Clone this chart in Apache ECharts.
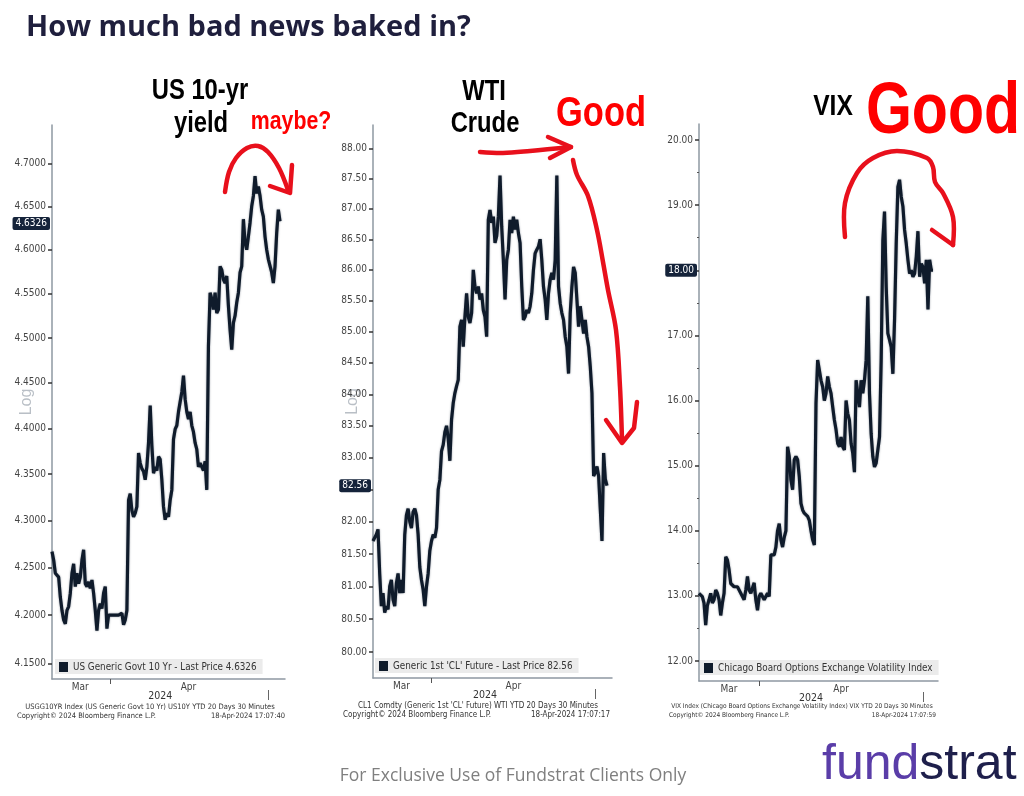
<!DOCTYPE html>
<html><head><meta charset="utf-8">
<script src="https://cdn.jsdelivr.net/npm/echarts@6/dist/echarts.min.js"></script>
<style>html,body{margin:0;padding:0;background:#fff}#c{width:1024px;height:796px}</style>
</head><body><div id="c"></div>
<script>
// ---------------- data ----------------
const us10y = [4.267,4.258,4.244,4.242,4.240,4.219,4.205,4.195,4.191,4.205,4.209,4.223,4.244,4.254,4.230,4.244,4.233,4.240,4.258,4.269,4.233,4.230,4.235,4.228,4.237,4.223,4.205,4.184,4.205,4.212,4.207,4.223,4.230,4.186,4.200,4.200,4.200,4.200,4.200,4.200,4.200,4.200,4.202,4.190,4.195,4.205,4.322,4.329,4.311,4.304,4.308,4.315,4.373,4.362,4.356,4.353,4.344,4.358,4.384,4.425,4.381,4.351,4.358,4.354,4.369,4.366,4.344,4.315,4.301,4.308,4.304,4.322,4.333,4.388,4.399,4.403,4.418,4.429,4.440,4.458,4.432,4.418,4.410,4.418,4.403,4.396,4.384,4.377,4.358,4.362,4.358,4.354,4.364,4.333,4.491,4.551,4.544,4.532,4.551,4.528,4.532,4.581,4.577,4.566,4.562,4.570,4.536,4.509,4.487,4.517,4.525,4.540,4.551,4.574,4.581,4.635,4.608,4.600,4.615,4.631,4.650,4.662,4.685,4.665,4.673,4.662,4.646,4.638,4.615,4.600,4.589,4.589,4.574,4.562,4.581,4.619,4.646,4.6326];
const wti = [81.70,81.75,81.80,81.88,81.20,80.70,80.90,80.60,80.70,80.65,81.00,81.10,80.80,80.70,81.05,81.20,80.90,81.10,80.90,81.80,82.10,82.20,82.00,81.90,82.15,82.20,82.10,81.80,81.30,81.10,80.95,80.70,81.00,81.20,81.55,81.70,81.80,81.75,81.90,82.50,82.65,83.10,83.20,83.40,83.50,83.30,82.95,83.60,83.86,84.02,84.13,84.23,85.08,85.19,84.76,85.24,85.62,85.24,85.14,85.30,86.00,85.73,85.62,85.73,85.52,85.62,85.35,85.24,84.92,86.82,86.98,86.77,86.87,86.44,86.55,86.87,87.55,86.71,86.16,85.52,86.16,86.33,86.82,86.60,86.87,86.66,86.82,86.60,86.44,85.73,85.19,85.24,85.35,85.30,85.41,85.62,86.00,86.27,86.33,86.38,86.50,86.16,85.73,85.52,85.19,85.62,85.84,85.95,85.84,86.16,87.55,85.73,85.46,85.30,85.19,84.92,84.76,84.33,85.30,85.73,86.05,85.95,85.52,85.08,85.41,85.19,84.97,85.19,84.92,84.76,84.44,84.02,82.71,82.76,82.86,82.71,82.19,81.70,83.07,82.66,82.56];
const vix = [13.04,13.01,12.99,12.89,12.55,12.85,12.94,13.04,12.89,12.94,13.09,13.04,12.94,12.70,12.89,13.04,13.60,13.55,13.40,13.19,13.19,13.14,13.16,13.14,13.09,13.09,12.99,12.94,13.09,13.30,13.09,13.04,13.12,13.20,12.94,12.78,12.99,13.04,13.01,12.94,12.99,13.04,12.99,13.63,13.60,13.63,13.75,14.00,14.11,13.86,13.75,13.90,14.00,15.29,15.14,14.78,14.63,15.09,15.14,15.09,14.83,14.42,14.32,14.27,14.24,14.22,14.16,14.00,13.86,13.78,15.96,16.62,16.47,16.31,16.21,16.00,16.11,16.37,16.21,16.11,15.90,15.70,15.55,15.34,15.29,15.44,15.29,15.24,16.00,15.80,15.70,15.34,15.19,14.90,16.31,16.11,15.90,16.31,16.11,16.31,16.62,17.60,16.11,15.49,15.14,14.98,15.04,15.24,15.44,16.62,18.46,18.90,17.75,17.03,16.93,16.82,16.41,17.24,18.41,19.28,19.39,19.13,18.98,18.62,18.41,18.16,17.95,18.00,17.90,17.95,18.21,18.60,17.90,18.10,18.05,17.80,18.16,17.40,18.16,18.00,18.00];

const us10yTicks = [4.15,4.20,4.25,4.30,4.35,4.40,4.45,4.50,4.55,4.60,4.65,4.70];
const wtiTicks = [80,80.5,81,81.5,82,82.5,83,83.5,84,84.5,85,85.5,86,86.5,87,87.5,88];
const vixTicks = [12,13,14,15,16,17,18,19,20];
const vixMinorTicks = [12.5,13.5,14.5,15.5,16.5,17.5,18.5,19.5];
const monthLabels = ['Mar','Apr'];
const yearLabel = '2024';
const lastUS = 4.6326, lastWTI = 82.56, lastVIX = 18.00;
const names = [
  'US Generic Govt 10 Yr - Last Price 4.6326',
  "Generic 1st 'CL' Future - Last Price 82.56",
  'Chicago Board Options Exchange Volatility Index - Last Price 18.00'
];
const footers = [
  ['USGG10YR Index (US Generic Govt 10 Yr) US10Y YTD 20 Days 30 Minutes','18-Apr-2024 17:07:40'],
  ["CL1 Comdty (Generic 1st 'CL' Future) WTI YTD 20 Days 30 Minutes",'18-Apr-2024 17:07:17'],
  ['VIX Index (Chicago Board Options Exchange Volatility Index) VIX YTD 20 Days 30 Minutes','18-Apr-2024 17:07:59']
];

// ---------------- layout ----------------
const NARROW = "'Liberation Sans Narrow','Arial Narrow','DejaVu Sans Condensed',sans-serif";
const LINE = '#0f1b2b';
const AXIS = '#8e98a2';
const panels = [
  {left:52, top:125, width:233, height:554, n:141, months:[17,82], bound:35, year:65, endTick:130},
  {left:373, top:125, width:239, height:553, n:144, months:[17,84], bound:35, year:67, endTick:133},
  {left:699, top:124, width:239, height:557, n:144, months:[18,85], bound:36, year:67, endTick:134}
];

function monthCats(p){ const a = new Array(p.n).fill(''); p.months.forEach((m,i)=>a[m]=monthLabels[i]); return a; }
function yearCats(p){ const a = new Array(p.n).fill(''); a[p.year]=yearLabel; return a; }

const grid = panels.map(p=>({left:p.left, top:p.top, width:p.width, height:p.height, containLabel:false, outerBoundsMode:'none'}));
const xAxis = [];
panels.forEach((p,gi)=>{
  xAxis.push({type:'category', gridIndex:gi, data:monthCats(p), boundaryGap:false,
    axisLine:{show:true, lineStyle:{color:AXIS, width:1.5}},
    axisTick:{show:true, interval:(i)=>i===p.bound, length:5, lineStyle:{color:'#555'}},
    axisLabel:{interval:(i,v)=>v!=='', fontSize:10, color:'#444', fontFamily:NARROW, margin:3},
    splitLine:{show:false}});
  xAxis.push({type:'category', gridIndex:gi, data:yearCats(p), boundaryGap:false, position:'bottom', offset:11,
    axisLine:{show:false},
    axisTick:{show:true, interval:(i)=>i===p.endTick, length:10, lineStyle:{color:'#666'}},
    axisLabel:{interval:(i,v)=>v!=='', fontSize:10.5, color:'#333', fontFamily:NARROW, margin:1},
    splitLine:{show:false}});
});

const yCommon = {axisLine:{show:true, lineStyle:{color:AXIS, width:1.5}}, splitLine:{show:false}};
const yLabel = {fontSize:10, color:'#444', fontFamily:NARROW, margin:6};
const yAxis = [
  Object.assign({type:'log', logBase:10, gridIndex:0, min:4.1338, max:4.745,
    name:'Log', nameLocation:'middle', nameRotate:90, nameGap:17, nameMoveOverlap:false,
    nameTextStyle:{color:'#b9bfc6', fontSize:16, fontFamily:'Liberation Sans'},
    axisTick:{show:true, customValues:us10yTicks, length:4, lineStyle:{color:'#333', width:1.5}},
    axisLabel:Object.assign({customValues:us10yTicks, formatter:(v)=>(+v).toFixed(4)}, yLabel)}, yCommon),
  Object.assign({type:'log', logBase:10, gridIndex:1, min:79.61, max:88.39,
    name:'Log', nameLocation:'middle', nameRotate:90, nameGap:12, nameMoveOverlap:false,
    nameTextStyle:{color:'#b9bfc6', fontSize:16, fontFamily:'Liberation Sans'},
    axisTick:{show:true, customValues:wtiTicks, length:4, lineStyle:{color:'#333', width:1.5}},
    axisLabel:Object.assign({customValues:wtiTicks, formatter:(v)=>(+v).toFixed(2)}, yLabel)}, yCommon),
  Object.assign({type:'value', gridIndex:2, min:11.693, max:20.246,
    axisTick:{show:true, customValues:vixTicks, length:4, lineStyle:{color:'#333', width:1.5}},
    axisLabel:Object.assign({customValues:vixTicks, formatter:(v)=>(+v).toFixed(2)}, yLabel)}, yCommon),
  {type:'value', gridIndex:2, min:11.693, max:20.246, position:'left',
    axisLine:{show:false}, splitLine:{show:false},
    axisTick:{show:true, customValues:vixMinorTicks, length:2, lineStyle:{color:'#555'}},
    axisLabel:{show:false}}
];

function priceTag(v, txt){
  return {silent:true, symbol:['none','none'], animation:false,
    lineStyle:{color:'rgba(0,0,0,0)', width:1, type:'solid'},
    label:{show:true, position:'start', formatter:txt, color:'#ffffff', backgroundColor:'#15233a',
      padding:[2,3,1,3], fontSize:10, fontFamily:NARROW, distance:2, borderRadius:2, opacity:1},
    emphasis:{disabled:true},
    data:[{yAxis:v}]};
}
const series = [
  {type:'line', name:names[0], xAxisIndex:0, yAxisIndex:0, data:us10y, markLine:priceTag(lastUS,'4.6326')},
  {type:'line', name:names[1], xAxisIndex:2, yAxisIndex:1, data:wti, markLine:priceTag(lastWTI,'82.56')},
  {type:'line', name:names[2], xAxisIndex:4, yAxisIndex:2, data:vix, markLine:priceTag(lastVIX,'18.00')}
].map(s=>Object.assign(s,{showSymbol:false, symbol:'none', animation:false,
  lineStyle:{width:3.2, color:LINE, shadowColor:'rgba(70,80,95,0.6)', shadowBlur:2}, itemStyle:{color:LINE}}));

const legendPos = [[55,659,null],[375,658,null],[700,660,218]];
const legend = legendPos.map((lp,i)=>({left:lp[0], top:lp[1], data:[names[i]], selectedMode:false,
  backgroundColor:'#ebebeb', padding:[3,6,2,4], itemWidth:9, itemHeight:10, icon:'rect',
  textStyle:Object.assign({fontSize:9.8, color:'#333', fontFamily:NARROW}, lp[2]?{width:lp[2], overflow:'truncate', ellipsis:''}:{})}));

// ---------------- annotations ----------------
const RED = '#e8101c';
function txt(x,y,text,opt){ return {type:'text', x:x, y:y, scaleX:opt.sx||1, silent:true, z:10,
  style:{text:text, fill:opt.fill||'#000', font:opt.font, textAlign:opt.align||'center', textVerticalAlign:'top'}}; }
function pl(points){ return {type:'polyline', silent:true, z:10, shape:{points:points, smooth:0.35},
  style:{stroke:RED, lineWidth:4.5, fill:null, lineCap:'round', lineJoin:'round'}}; }
function plStraight(points){ return {type:'polyline', silent:true, z:10, shape:{points:points},
  style:{stroke:RED, lineWidth:4.5, fill:null, lineCap:'round', lineJoin:'round'}}; }

const fFoot = "7.5px " + NARROW;
const graphic = [
  txt(26,13,'How much bad news baked in?',{font:"bold 29px 'Open Sans'", fill:'#1f1f3d', align:'left'}),
  txt(200,76,'US 10-yr',{font:"bold 29px 'Liberation Sans'", sx:0.82}),
  txt(201,109,'yield',{font:"bold 29px 'Liberation Sans'", sx:0.82}),
  txt(291,109,'maybe?',{font:"bold 26px 'Liberation Sans'", sx:0.82, fill:'#ff0000'}),
  txt(484,77,'WTI',{font:"bold 29px 'Liberation Sans'", sx:0.82}),
  txt(485,109,'Crude',{font:"bold 29px 'Liberation Sans'", sx:0.82}),
  txt(601,93,'Good',{font:"bold 42px 'Liberation Sans'", sx:0.82, fill:'#ff0000'}),
  txt(833,92,'VIX',{font:"bold 30px 'Liberation Sans'", sx:0.82}),
  txt(943,77,'Good',{font:"bold 72px 'Liberation Sans'", sx:0.82, fill:'#ff0000'}),
  // red hand-drawn arrows
  pl([[225,192],[229,172],[236,158],[247,148],[258,146],[268,152],[279,168],[288,190]]),
  plStraight([[270,186],[290,193],[292,165]]),
  pl([[480,152],[503,153],[530,151],[571,147]]),
  plStraight([[548,137],[571,147],[550,158]]),
  pl([[573,160],[577,175],[588,196],[597,230],[603,262],[608,290],[616,330],[620,387],[622,440]]),
  plStraight([[606,420],[622,443],[634,428],[637,402]]),
  pl([[845,237],[845,203],[857,173],[873,158],[897,151],[927,158],[933,167],[935,182],[943,193],[953,217],[953,245]]),
  plStraight([[932,230],[953,245]]),
  // bloomberg footers
  txt(150,703,footers[0][0],{font:fFoot, fill:'#333'}),
  txt(17,712,'Copyright\u00a9 2024 Bloomberg Finance L.P.',{font:fFoot, fill:'#333', align:'left'}),
  txt(285,712,footers[0][1],{font:fFoot, fill:'#333', align:'right'}),
  txt(478,702,footers[1][0],{font:"8px "+NARROW, fill:'#333'}),
  txt(343,711,'Copyright\u00a9 2024 Bloomberg Finance L.P.',{font:"8px "+NARROW, fill:'#333', align:'left'}),
  txt(610,711,footers[1][1],{font:"8px "+NARROW, fill:'#333', align:'right'}),
  txt(802,703,footers[2][0],{font:"6.5px "+NARROW, fill:'#333'}),
  txt(669,712,'Copyright\u00a9 2024 Bloomberg Finance L.P.',{font:"6.5px "+NARROW, fill:'#333', align:'left'}),
  txt(936,712,footers[2][1],{font:"6.5px "+NARROW, fill:'#333', align:'right'}),
  // slide footer
  txt(513,767,'For Exclusive Use of Fundstrat Clients Only',{font:"17.5px 'Open Sans'", fill:'#7f7f7f'}),
  {type:'text', x:822, y:740, silent:true, style:{text:'{a|fund}{b|strat}', textVerticalAlign:'top',
    rich:{a:{font:"50px 'Liberation Sans'", fill:'#5a3da8'}, b:{font:"50px 'Liberation Sans'", fill:'#1e1f4b'}}}}
];

const chart = echarts.init(document.getElementById('c'), null, {renderer:'canvas'});
chart.setOption({animation:false, backgroundColor:'#fff', grid, xAxis, yAxis, series, legend, graphic});
</script></body></html>
